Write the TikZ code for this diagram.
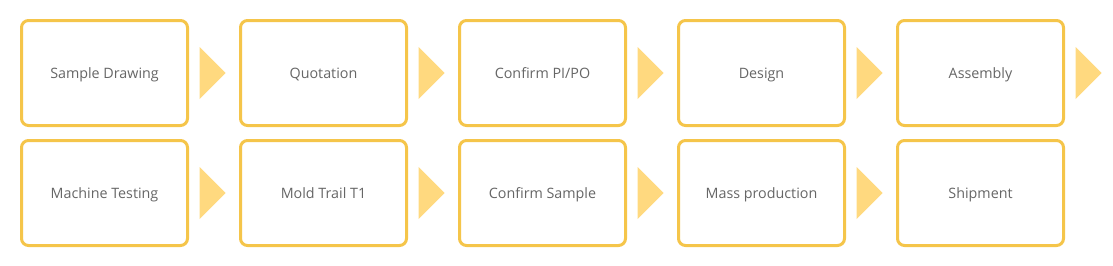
\documentclass[tikz,border=0pt]{standalone}
\usepackage{fontspec}
\setmainfont{Open Sans}
\definecolor{boxline}{HTML}{F5C54A}
\definecolor{tri}{HTML}{FFD97F}
\definecolor{txt}{HTML}{666666}
\begin{document}
\begin{tikzpicture}[x=1pt,y=-1pt,
  stepbox/.style={draw=boxline,line width=3pt,rounded corners=7pt,minimum width=166pt,minimum height=105pt,inner sep=0pt,text=txt,font=\fontsize{14.3}{17}\selectfont,fill=white,text height=10.3pt,text depth=0pt},
  arrowtri/.style={fill=tri}]
\useasboundingbox (0,0) rectangle (1113,265);
\foreach \i/\t [count=\k] in {0/{Sample Drawing},1/{Quotation},2/{Confirm PI/PO},3/{Design},4/{Assembly}}{
  \node[stepbox] (a\k) at (104.5+219*\i,73) {\t};
}
\foreach \i/\t [count=\k] in {0/{Machine Testing},1/{Mold Trail T1},2/{Confirm Sample},3/{Mass production},4/{Shipment}}{
  \node[stepbox] (b\k) at (104.5+219*\i,193) {\t};
}
\foreach \k in {1,...,5}{
  \fill[arrowtri] ([xshift=10.5pt,yshift=26pt]a\k.east) -- ([xshift=36.5pt]a\k.east) -- ([xshift=10.5pt,yshift=-26pt]a\k.east) -- cycle;
}
\foreach \k in {1,...,4}{
  \fill[arrowtri] ([xshift=10.5pt,yshift=26pt]b\k.east) -- ([xshift=36.5pt]b\k.east) -- ([xshift=10.5pt,yshift=-26pt]b\k.east) -- cycle;
}
\end{tikzpicture}
\end{document}
